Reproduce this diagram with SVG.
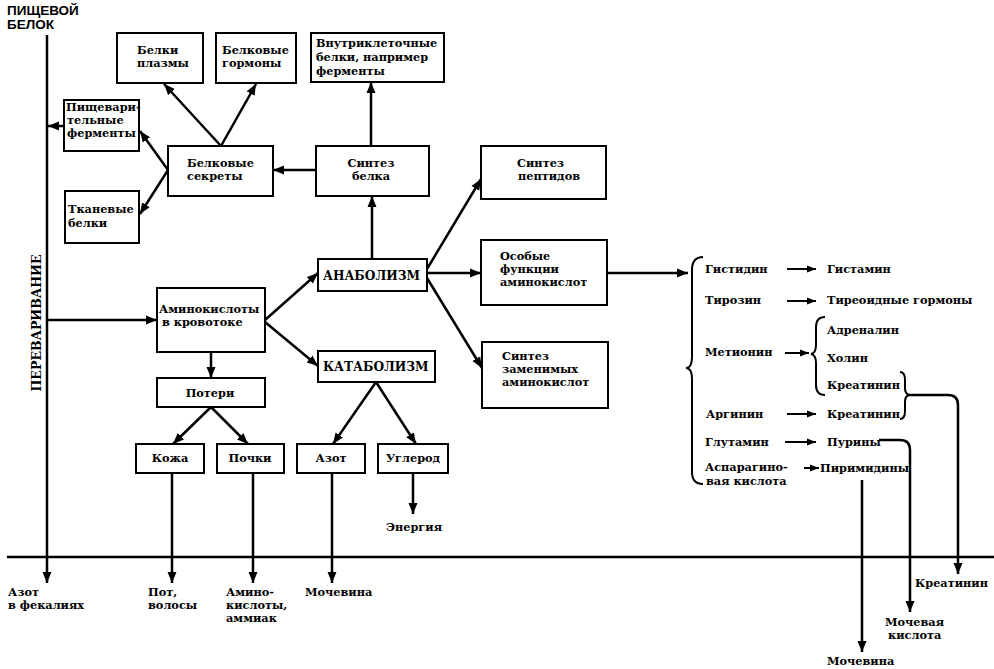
<svg xmlns="http://www.w3.org/2000/svg" width="994" height="669" viewBox="0 0 994 669">
<style>
text{font-family:"DejaVu Serif","Liberation Serif",serif;font-weight:bold;font-size:11.3px;fill:#000}
.sans{font-family:"Liberation Sans","DejaVu Sans",sans-serif;font-size:13.5px}
.caps{font-size:12.2px}
.box{fill:#fff;stroke:#000;stroke-width:2}
.c{fill:none;stroke:#000;stroke-width:2.5}
.s{fill:none;stroke:#000;stroke-width:2}
.m{text-anchor:middle}
</style>
<defs>
<marker id="a" markerUnits="userSpaceOnUse" markerWidth="12" markerHeight="10" refX="11" refY="5" orient="auto"><path d="M0,0.5 L11,5 L0,9.5 z" fill="#000"/></marker>
<marker id="b" markerUnits="userSpaceOnUse" markerWidth="10" markerHeight="8" refX="9" refY="4" orient="auto"><path d="M0,0.5 L9,4 L0,7.5 z" fill="#000"/></marker>
</defs>
<rect width="994" height="669" fill="#fff"/>

<g id="labels-left">
<text class="sans" x="7" y="15">ПИЩЕВОЙ</text>
<text class="sans" x="7" y="29">БЕЛОК</text>
<text class="m" style="font-size:12.6px" transform="translate(41,323) rotate(-90)">ПЕРЕВАРИВАНИЕ</text>
</g>

<g id="connectors">
<line class="c" x1="47" y1="35" x2="47" y2="583" marker-end="url(#a)"/>
<line class="c" x1="64" y1="126" x2="48" y2="126" marker-end="url(#a)"/>
<line class="c" x1="47" y1="320" x2="157" y2="320" marker-end="url(#a)"/>
<line class="c" x1="168" y1="170" x2="140" y2="131" marker-end="url(#a)"/>
<line class="c" x1="168" y1="170" x2="140" y2="214" marker-end="url(#a)"/>
<line class="c" x1="221" y1="146" x2="164" y2="84" marker-end="url(#a)"/>
<line class="c" x1="221" y1="146" x2="256" y2="84" marker-end="url(#a)"/>
<line class="c" x1="316" y1="170" x2="273" y2="170" marker-end="url(#a)"/>
<line class="c" x1="371" y1="146" x2="371" y2="82" marker-end="url(#a)"/>
<line class="c" x1="372" y1="259" x2="372" y2="196" marker-end="url(#a)"/>
<line class="c" x1="427" y1="269" x2="481" y2="179" marker-end="url(#a)"/>
<line class="c" x1="427" y1="273" x2="481" y2="273" marker-end="url(#a)"/>
<line class="c" x1="427" y1="278" x2="482" y2="368" marker-end="url(#a)"/>
<line class="c" x1="265" y1="320" x2="318" y2="273" marker-end="url(#a)"/>
<line class="c" x1="265" y1="322" x2="318" y2="366" marker-end="url(#a)"/>
<line class="c" x1="211" y1="352" x2="211" y2="378" marker-end="url(#a)"/>
<line class="c" x1="211" y1="407" x2="173" y2="444" marker-end="url(#a)"/>
<line class="c" x1="211" y1="407" x2="248" y2="444" marker-end="url(#a)"/>
<line class="c" x1="376" y1="382" x2="333" y2="444" marker-end="url(#a)"/>
<line class="c" x1="376" y1="382" x2="416" y2="444" marker-end="url(#a)"/>
<line class="c" x1="172" y1="473" x2="172" y2="583" marker-end="url(#a)"/>
<line class="c" x1="253" y1="473" x2="253" y2="583" marker-end="url(#a)"/>
<line class="c" x1="332" y1="473" x2="332" y2="583" marker-end="url(#a)"/>
<line class="c" x1="413" y1="473" x2="413" y2="514" marker-end="url(#a)"/>
<line class="c" x1="7" y1="557" x2="994" y2="557"/>
<line class="c" x1="607" y1="273" x2="688" y2="273" marker-end="url(#a)"/>
<path class="s" d="M703,257 Q692,257 692,270 L692,357 Q692,368 686,368 Q692,368 692,379 L692,472 Q692,484 703,484"/>
<line class="s" x1="787" y1="269" x2="816" y2="269" marker-end="url(#b)"/>
<line class="s" x1="787" y1="301" x2="816" y2="301" marker-end="url(#b)"/>
<line class="s" x1="785" y1="353" x2="809" y2="353" marker-end="url(#b)"/>
<path class="s" d="M825,317 Q816,317 816,327 L816,345 Q816,353 811,354 Q816,355 816,363 L816,385 Q816,395 825,395"/>
<line class="s" x1="787" y1="414" x2="816" y2="414" marker-end="url(#b)"/>
<path class="s" d="M900,372 Q905,372 905,380 L905,388 Q905,394 909,395 Q905,396 905,402 L905,411 Q905,419 900,419"/>
<path class="c" d="M908,395 L948,395 Q958,395 958,405 L958,574" marker-end="url(#a)"/>
<line class="s" x1="785" y1="442" x2="816" y2="442" marker-end="url(#b)"/>
<path class="c" d="M879,440 L900,440 Q910,440 910,450 L910,612" marker-end="url(#a)"/>
<line class="s" x1="804" y1="468" x2="819" y2="468" marker-end="url(#b)"/>
<line class="c" x1="862" y1="480" x2="862" y2="652" marker-end="url(#a)"/>
</g>

<g id="n-plasma"><rect class="box" x="117" y="33" width="86" height="50"/><text x="137" y="54">Белки</text><text x="137" y="67">плазмы</text></g>
<g id="n-hormones"><rect class="box" x="216" y="33" width="80" height="50"/><text x="222" y="54">Белковые</text><text x="222" y="67">гормоны</text></g>
<g id="n-intracell"><rect class="box" x="311" y="33" width="133" height="49"/><text x="316" y="47">Внутриклеточные</text><text x="316" y="61">белки, например</text><text x="316" y="75">ферменты</text></g>
<g id="n-digestive"><rect class="box" x="64" y="100" width="75" height="51"/><text x="66" y="111">Пищевари-</text><text x="67" y="124">тельные</text><text x="67" y="137">ферменты</text></g>
<g id="n-secrets"><rect class="box" x="168" y="146" width="105" height="50"/><text x="187" y="167">Белковые</text><text x="187" y="180">секреты</text></g>
<g id="n-tissue"><rect class="box" x="65" y="191" width="74" height="52"/><text x="68" y="213">Тканевые</text><text x="68" y="227">белки</text></g>
<g id="n-synth"><rect class="box" x="316" y="146" width="113" height="50"/><text class="m" x="371" y="167">Синтез</text><text class="m" x="371" y="180">белка</text></g>
<g id="n-peptides"><rect class="box" x="481" y="146" width="125" height="53"/><text x="517" y="167">Синтез</text><text x="518" y="180">пептидов</text></g>
<g id="n-special"><rect class="box" x="481" y="240" width="126" height="65"/><text x="500" y="260">Особые</text><text x="500" y="273">функции</text><text x="500" y="286">аминокислот</text></g>
<g id="n-anabol"><rect class="box" x="318" y="259" width="109" height="32"/><text class="caps" x="323" y="280">АНАБОЛИЗМ</text></g>
<g id="n-amino"><rect class="box" x="157" y="288" width="108" height="64"/><text x="159" y="313">Аминокислоты</text><text x="162" y="326">в кровотоке</text></g>
<g id="n-catabol"><rect class="box" x="318" y="351" width="117" height="31"/><text class="caps" x="323" y="371">КАТАБОЛИЗМ</text></g>
<g id="n-nonessential"><rect class="box" x="482" y="342" width="126" height="66"/><text x="502" y="360">Синтез</text><text x="502" y="373">заменимых</text><text x="502" y="386">аминокислот</text></g>
<g id="n-losses"><rect class="box" x="157" y="378" width="108" height="29"/><text class="m" x="210" y="397">Потери</text></g>
<g id="n-skin"><rect class="box" x="136" y="444" width="68" height="29"/><text class="m" x="170" y="462">Кожа</text></g>
<g id="n-kidney"><rect class="box" x="217" y="444" width="67" height="29"/><text class="m" x="250" y="462">Почки</text></g>
<g id="n-nitrogen"><rect class="box" x="297" y="444" width="68" height="29"/><text class="m" x="331" y="462">Азот</text></g>
<g id="n-carbon"><rect class="box" x="378" y="444" width="70" height="29"/><text class="m" x="413" y="462">Углерод</text></g>

<g id="right-list">
<text x="705" y="273">Гистидин</text><text x="827" y="273">Гистамин</text>
<text x="705" y="304">Тирозин</text><text x="827" y="304">Тиреоидные гормоны</text>
<text x="827" y="334">Адреналин</text>
<text x="705" y="356">Метионин</text>
<text x="827" y="362">Холин</text>
<text x="827" y="389">Креатинин</text>
<text x="706" y="418">Аргинин</text><text x="827" y="418">Креатинин</text>
<text x="705" y="446">Глутамин</text><text x="827" y="446">Пурины</text>
<text x="705" y="471">Аспарагино-</text><text x="706" y="485">вая кислота</text><text x="820" y="472">Пиримидины</text>
</g>

<g id="bottom-labels">
<text x="386" y="531">Энергия</text>
<text x="8" y="596">Азот</text><text x="8" y="609">в фекалиях</text>
<text x="148" y="596">Пот,</text><text x="148" y="609">волосы</text>
<text x="226" y="596">Амино-</text><text x="226" y="609">кислоты,</text><text x="226" y="622">аммиак</text>
<text x="305" y="596">Мочевина</text>
<text x="915" y="587">Креатинин</text>
<text x="885" y="626">Мочевая</text><text x="888" y="639">кислота</text>
<text x="827" y="665">Мочевина</text>
</g>
</svg>
